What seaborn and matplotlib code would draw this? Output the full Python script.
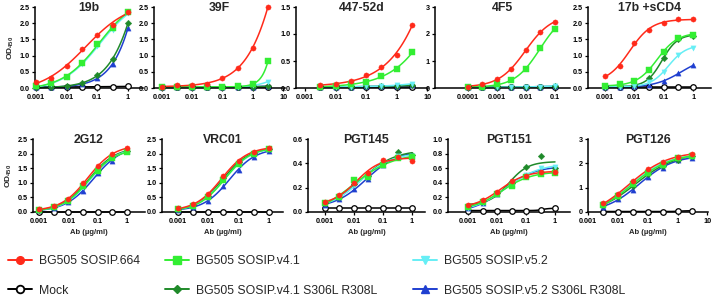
import numpy as np
import pandas as pd
import matplotlib
matplotlib.use("Agg")
import matplotlib.pyplot as plt
from matplotlib.lines import Line2D
import seaborn as sns

sns.set_theme(style="ticks")
plt.rcParams['font.family'] = ['Liberation Sans', 'DejaVu Sans']
plt.rcParams['mathtext.fontset'] = 'custom'
plt.rcParams['mathtext.rm'] = 'Liberation Sans'
plt.rcParams['mathtext.bf'] = 'Liberation Sans:bold'

# ---------------- data ----------------
series = ["BG505 SOSIP.664", "BG505 SOSIP.v4.1", "BG505 SOSIP.v5.2",
          "Mock", "BG505 SOSIP.v4.1 S306L R308L", "BG505 SOSIP.v5.2 S306L R308L"]
colors = ["#ff2a1a", "#33ee33", "#66eef5", "#000000", "#1f8a2a", "#1f3fd0"]
markers = ["o", "s", "v", "o", "D", "^"]

conc_1 = [1, 0.316, 0.1, 0.0316, 0.01, 0.00316, 0.001]
conc_3 = [3.16, 1, 0.316, 0.1, 0.0316, 0.01, 0.00316]
conc_39f = [3.16, 1, 0.316, 0.1, 0.0316, 0.01, 0.00316, 0.001]
conc_4f5 = [0.1, 0.0316, 0.01, 0.00316, 0.001, 0.000316, 0.0001]

panels = ["19b", "39F", "447-52d", "4F5", "17b +sCD4",
          "2G12", "VRC01", "PGT145", "PGT151", "PGT126"]

# values per panel, order of `series`, highest concentration first
od_19b = [[2.35, 1.95, 1.65, 1.2, 0.68, 0.32, 0.17],
          [2.35, 1.85, 1.35, 0.78, 0.35, 0.15, 0.05],
          [2.3, 1.8, 1.3, 0.75, 0.33, 0.13, 0.05],
          [0.05, 0.04, 0.04, 0.04, 0.03, 0.03, 0.03],
          [2.0, 0.9, 0.4, 0.15, 0.05, 0.03, 0.02],
          [1.85, 0.75, 0.3, 0.12, 0.05, 0.03, 0.02]]
od_39f = [[2.5, 1.25, 0.62, 0.3, 0.13, 0.1, 0.08, 0.04],
          [0.82, 0.12, 0.05, 0.04, 0.04, 0.03, 0.03, 0.03],
          [0.2, 0.08, 0.04, 0.03, 0.03, 0.02, 0.02, 0.02],
          [0.02, 0.02, 0.02, 0.02, 0.02, 0.02, 0.02, 0.02],
          [0.05, 0.04, 0.03, 0.03, 0.02, 0.02, 0.02, 0.02],
          [0.06, 0.04, 0.03, 0.03, 0.02, 0.02, 0.02, 0.02]]
od_447 = [[1.17, 0.62, 0.38, 0.25, 0.13, 0.07, 0.05],
          [0.66, 0.35, 0.22, 0.12, 0.07, 0.04, 0.02],
          [0.08, 0.05, 0.04, 0.03, 0.02, 0.02, 0.02],
          [0.02, 0.02, 0.02, 0.02, 0.02, 0.02, 0.02],
          [0.05, 0.04, 0.03, 0.03, 0.02, 0.02, 0.02],
          [0.05, 0.04, 0.03, 0.03, 0.02, 0.02, 0.02]]
od_4f5 = [[2.45, 2.08, 1.4, 0.72, 0.33, 0.15, 0.05],
          [2.2, 1.48, 0.72, 0.3, 0.15, 0.05, 0.02],
          [0.08, 0.05, 0.04, 0.03, 0.03, 0.02, 0.02],
          [0.03, 0.03, 0.03, 0.03, 0.03, 0.03, 0.03],
          [0.06, 0.05, 0.04, 0.04, 0.03, 0.03, 0.03],
          [0.06, 0.05, 0.04, 0.04, 0.03, 0.03, 0.03]]
od_17b = [[2.12, 2.12, 2.02, 1.78, 1.4, 0.67, 0.37],
          [1.65, 1.55, 1.12, 0.57, 0.22, 0.12, 0.05],
          [1.25, 1.02, 0.5, 0.18, 0.07, 0.04, 0.03],
          [0.02, 0.02, 0.02, 0.02, 0.02, 0.02, 0.02],
          [1.62, 1.5, 0.92, 0.3, 0.1, 0.05, 0.03],
          [0.7, 0.45, 0.22, 0.1, 0.05, 0.03, 0.02]]
od_2g12 = [[2.2, 1.97, 1.57, 0.98, 0.45, 0.2, 0.1],
           [2.05, 1.85, 1.42, 0.88, 0.38, 0.17, 0.07],
           [2.08, 1.85, 1.4, 0.85, 0.37, 0.16, 0.07],
           [0.01, 0.01, 0.01, 0.01, 0.01, 0.01, 0.01],
           [2.1, 1.9, 1.45, 0.9, 0.4, 0.18, 0.08],
           [2.1, 1.75, 1.35, 0.72, 0.33, 0.15, 0.06]]
od_vrc01 = [[2.2, 2.05, 1.75, 1.25, 0.6, 0.27, 0.12],
            [2.15, 2.0, 1.65, 1.1, 0.5, 0.22, 0.1],
            [2.15, 2.0, 1.62, 1.1, 0.52, 0.22, 0.1],
            [0.01, 0.01, 0.01, 0.01, 0.01, 0.01, 0.01],
            [2.15, 2.02, 1.7, 1.15, 0.55, 0.24, 0.1],
            [2.08, 1.9, 1.45, 0.9, 0.38, 0.17, 0.08]]
od_pgt145 = [[0.42, 0.45, 0.43, 0.32, 0.24, 0.14, 0.08],
             [0.45, 0.44, 0.39, 0.29, 0.26, 0.12, 0.07],
             [0.46, 0.46, 0.4, 0.3, 0.22, 0.12, 0.07],
             [0.03, 0.03, 0.03, 0.03, 0.03, 0.03, 0.03],
             [0.47, 0.49, 0.4, 0.3, 0.23, 0.12, 0.07],
             [0.47, 0.46, 0.39, 0.27, 0.19, 0.11, 0.06]]
od_pgt151 = [[0.55, 0.55, 0.49, 0.42, 0.27, 0.17, 0.09],
             [0.53, 0.52, 0.48, 0.36, 0.25, 0.14, 0.07],
             [0.62, 0.6, 0.51, 0.37, 0.25, 0.13, 0.06],
             [0.05, 0.03, 0.02, 0.02, 0.02, 0.02, 0.02],
             [0.6, 0.77, 0.61, 0.4, 0.26, 0.15, 0.08],
             [0.6, 0.58, 0.51, 0.38, 0.25, 0.12, 0.05]]
od_pgt126 = [[2.4, 2.25, 2.05, 1.75, 1.27, 0.72, 0.35],
             [2.3, 2.2, 1.95, 1.62, 1.15, 0.65, 0.3],
             [2.3, 2.2, 2.0, 1.65, 1.2, 0.68, 0.32],
             [0.05, 0.03, 0.02, 0.02, 0.02, 0.02, 0.02],
             [2.3, 2.15, 1.9, 1.55, 1.05, 0.62, 0.3],
             [2.2, 2.15, 1.82, 1.43, 0.92, 0.52, 0.22]]

panel_conc = [conc_1, conc_39f, conc_3, conc_4f5, conc_1,
              conc_1, conc_1, conc_1, conc_1, conc_3]
panel_od = [od_19b, od_39f, od_447, od_4f5, od_17b,
            od_2g12, od_vrc01, od_pgt145, od_pgt151, od_pgt126]

xt_std = [0.001, 0.01, 0.1, 1]
xt_10 = [0.001, 0.01, 0.1, 1, 10]
xt_4f5 = [0.0001, 0.001, 0.01, 0.1]
xtl = {0.0001: "0.0001", 0.001: "0.001", 0.01: "0.01", 0.1: "0.1", 1: "1", 10: "10"}

# ---------------- layout (pixels) ----------------
W, H = 713, 296
layout = [  # L, R, T, B, xlim, ylim, yticks, xticks, yfmt
    (35, 143, 7, 88, (0.00093, 3.1), (0, 2.5), np.arange(0, 2.51, 0.5), xt_std, "{:.1f}"),
    (154, 285, 7, 88, (0.00055, 11.6), (0, 2.5), np.arange(0, 2.51, 0.5), xt_10, "{:.1f}"),
    (296, 428, 7, 88, (0.00051, 10.5), (0, 1.5), np.arange(0, 1.51, 0.5), xt_10, "{:.1f}"),
    (435, 570, 7, 88, (7.3e-6, 0.33), (0, 3), np.arange(0, 3.1, 1), xt_4f5, "{:.0f}"),
    (588, 711, 7, 88, (0.00027, 4.0), (0, 2.5), np.arange(0, 2.51, 0.5), xt_std, "{:.1f}"),
    (33, 145, 139, 212, (0.00062, 4.1), (0, 2.5), np.arange(0, 2.51, 0.5), xt_std, "{:.1f}"),
    (162, 283, 139, 212, (0.0003, 2.9), (0, 2.5), np.arange(0, 2.51, 0.5), xt_std, "{:.1f}"),
    (308, 425, 139, 212, (0.00026, 2.8), (0, 0.6), np.arange(0, 0.61, 0.2), xt_std, "{:.1f}"),
    (448, 570, 139, 212, (0.0002, 3.3), (0, 1.0), np.arange(0, 1.01, 0.2), xt_std, "{:.1f}"),
    (588, 708, 139, 212, (0.001, 10.5), (0, 3), np.arange(0, 3.1, 1), xt_10, "{:.0f}"),
]


def fit4pl(lx, y):
    cs = np.arange(lx.min() - 1.5, lx.max() + 1.5, 0.02)
    hs = np.arange(0.3, 4.0, 0.05)
    C, Hh = np.meshgrid(cs, hs)
    C = C.ravel(); Hh = Hh.ravel()
    S = 1.0 / (1.0 + 10 ** ((C[:, None] - lx[None, :]) * Hh[:, None]))
    Sm = S.mean(1)
    ym = y.mean()
    var = ((S - Sm[:, None]) ** 2).sum(1) + 1e-12
    cov = ((S - Sm[:, None]) * (y - ym)[None, :]).sum(1)
    d = cov / var
    a = ym - d * Sm
    sse = ((a[:, None] + d[:, None] * S - y[None, :]) ** 2).sum(1)
    k = np.argmin(sse)
    return lambda t: a[k] + d[k] / (1.0 + 10 ** ((C[k] - t) * Hh[k]))


fig = plt.figure(figsize=(W / 100, H / 100), dpi=100)
draw_order = [3, 5, 4, 2, 1, 0]
tick_font = dict(fontsize=5.2, fontweight="bold")

for i, name in enumerate(panels):
    L, R, T, B, xlim, ylim, yt, xt, yfmt = layout[i]
    ax = fig.add_axes([L / W, 1 - B / H, (R - L) / W, (B - T) / H])
    conc = np.array(panel_conc[i], dtype=float)
    lx = np.log10(conc)
    for j in draw_order:
        y = np.array(panel_od[i][j], dtype=float)
        f = fit4pl(lx, y)
        t = np.linspace(lx.min(), lx.max(), 120)
        cdf = pd.DataFrame({"conc": 10 ** t, "od": f(t)})
        pdf = pd.DataFrame({"conc": conc, "od": y})
        sns.lineplot(data=cdf, x="conc", y="od", ax=ax, color=colors[j],
                     lw=1.1, estimator=None, sort=False, legend=False, clip_on=False)
        if series[j] == "Mock":
            sns.scatterplot(data=pdf, x="conc", y="od", ax=ax, marker="o", s=16,
                            facecolor="white", edgecolor="black", linewidth=0.9,
                            legend=False, clip_on=False, zorder=3)
        else:
            ms = 14 if markers[j] != "D" else 11
            sns.scatterplot(data=pdf, x="conc", y="od", ax=ax, marker=markers[j], s=ms,
                            color=colors[j], edgecolor=colors[j], linewidth=0.3,
                            legend=False, clip_on=False, zorder=3)
    ax.set_xscale("log")
    ax.set_xlim(*xlim)
    ax.set_ylim(*ylim)
    ax.set_xticks(xt)
    ax.set_xticklabels([xtl[v] for v in xt], **tick_font)
    ax.xaxis.set_minor_locator(matplotlib.ticker.NullLocator())
    ax.set_yticks(yt)
    ax.set_yticklabels([yfmt.format(v) for v in yt], **tick_font)
    for s in ("top", "right"):
        ax.spines[s].set_visible(False)
    for s in ("left", "bottom"):
        ax.spines[s].set_linewidth(1.1)
        ax.spines[s].set_color("black")
    ax.tick_params(axis="both", length=2.5, width=0.9, pad=1.5, colors="black")
    ax.set_xlabel("")
    ax.set_ylabel("")
    ax.set_title(name, fontsize=8.8, fontweight="bold", pad=-3, y=1.0)
    if i in (0, 5):
        ax.set_ylabel(r"$\mathbf{OD_{450}}$", fontsize=6, labelpad=2)
    if i >= 5:
        ax.set_xlabel("Ab (µg/ml)", fontsize=5.5, fontweight="bold", labelpad=3)

# legend in three separate columns
def handle(j):
    if series[j] == "Mock":
        return Line2D([], [], color="black", lw=1.4, marker="o", markersize=5.5,
                      markerfacecolor="white", markeredgecolor="black", markeredgewidth=1.3)
    return Line2D([], [], color=colors[j], lw=1.4, marker=markers[j],
                  markersize=5.5 if markers[j] != "D" else 4.5, markeredgecolor=colors[j])

cols = [([0, 3], 8), ([1, 4], 165), ([2, 5], 413)]
for idx, xpix in cols:
    fig.legend(handles=[handle(j) for j in idx], labels=[series[j] for j in idx],
               loc="upper left", bbox_to_anchor=(xpix / W, 1 - 255 / H),
               frameon=False, fontsize=8.8, handlelength=2.0, handletextpad=0.55,
               labelspacing=1.45, borderaxespad=0, borderpad=0)

fig.savefig("out.png", dpi=100)
